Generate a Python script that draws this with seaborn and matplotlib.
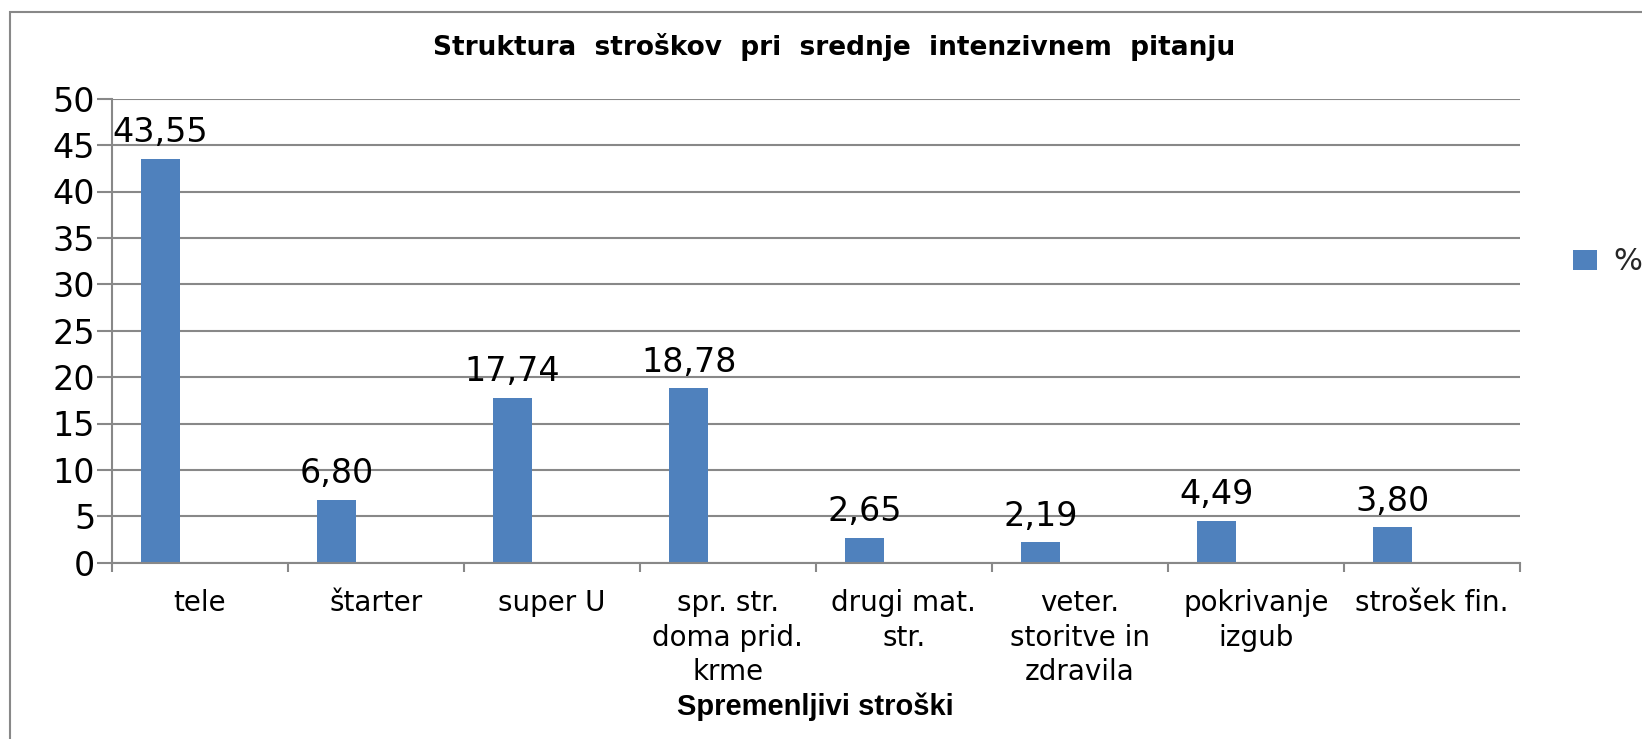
import matplotlib
matplotlib.use("Agg")
import matplotlib.pyplot as plt
from matplotlib.patches import Rectangle
import seaborn as sns
import pandas as pd

# ---- data ----
categories = ["tele", "štarter", "super U", "spr. str.\ndoma prid.\nkrme",
              "drugi mat.\nstr.", "veter.\nstoritve in\nzdravila",
              "pokrivanje\nizgub", "strošek fin."]
values = [43.55, 6.80, 17.74, 18.78, 2.65, 2.19, 4.49, 3.80]
series_name = "%"
title = "Struktura  stroškov  pri  srednje  intenzivnem  pitanju"
x_title = "Spremenljivi stroški"
y_ticks = [0, 5, 10, 15, 20, 25, 30, 35, 40, 45, 50]

sns.set_theme(style="white")
plt.rcParams["font.family"] = ["DejaVu Sans"]

W, H = 1642, 739
fig = plt.figure(figsize=(W / 100, H / 100), dpi=100)
ax_left, ax_right = 111.7 / W, 1520 / W
ax_top, ax_bot = 1 - 98.7 / H, 1 - 562.7 / H
ax = fig.add_axes([ax_left, ax_bot, ax_right - ax_left, ax_top - ax_bot])

df = pd.DataFrame({"kategorija": categories, "vrednost": values,
                   "serija": [series_name] * len(values)})
hue_levels = [series_name, "_b", "_c"]
bar_color = "#4F81BD"
palette = {series_name: bar_color, "_b": bar_color, "_c": bar_color}

sns.barplot(data=df, x="kategorija", y="vrednost", hue="serija",
            hue_order=hue_levels, palette=palette, order=categories,
            width=0.667, dodge=True, gap=0, saturation=1, ax=ax,
            legend=False, edgecolor="none")

grid_c = "#888888"
ax.set_ylim(0, 50)
ax.set_xlim(-0.5, len(categories) - 0.5)
ax.set_yticks(y_ticks)
ax.yaxis.grid(True, color=grid_c, linewidth=1.5)
ax.set_axisbelow(True)
for s in ["top", "right"]:
    ax.spines[s].set_visible(False)
for s in ["left", "bottom"]:
    ax.spines[s].set_color(grid_c)
    ax.spines[s].set_linewidth(1.5)

ax.tick_params(axis="y", which="major", left=True, length=10.8, width=1.5,
               color=grid_c, pad=1, labelsize=24, labelcolor="black")
ax.set_xticks(range(len(categories)))
ax.set_xticks([i - 0.5 for i in range(len(categories) + 1)], minor=True)
ax.tick_params(axis="x", which="major", bottom=False, length=0, pad=19,
               labelsize=20, labelcolor="black")
ax.tick_params(axis="x", which="minor", bottom=True, length=6.5, width=1.5,
               color=grid_c)
ax.set_xticklabels(categories)
for lbl in ax.get_xticklabels():
    lbl.set_multialignment("center")
    lbl.set_linespacing(1.3)
    lbl.set_va("top")
ax.set_ylabel("")

# data labels
cont = ax.containers[0]
ax.bar_label(cont, labels=[f"{v:.2f}".replace(".", ",") for v in values],
             padding=7, fontsize=24, color="black")

# axis title
ax.set_xlabel(x_title, fontsize=21, fontweight="bold",
              family=["Liberation Sans", "DejaVu Sans"], color="black")
ax.xaxis.set_label_coords(0.5, (562.7 - 707) / 464)
ax.xaxis.label.set_va("center")

# chart title
fig.text(834 / W, 1 - 47 / H, title, fontsize=19, fontweight="bold",
         family=["DejaVu Sans"], color="black", ha="center", va="center")

# legend
handle = cont.patches[0]
fig.legend([handle], [series_name], loc="center left",
           bbox_to_anchor=(1573 / W, 1 - 262 / H), frameon=False,
           fontsize=22, borderpad=0, borderaxespad=0, handlelength=0.79,
           handleheight=0.65, handletextpad=0.52)

# chart area border
fig.patches.append(Rectangle((10 / W, -0.2), 1.5, 1.2 - 12 / H,
                             transform=fig.transFigure, fill=False,
                             edgecolor=grid_c, linewidth=1.5))

fig.savefig("out.png", dpi=100)
